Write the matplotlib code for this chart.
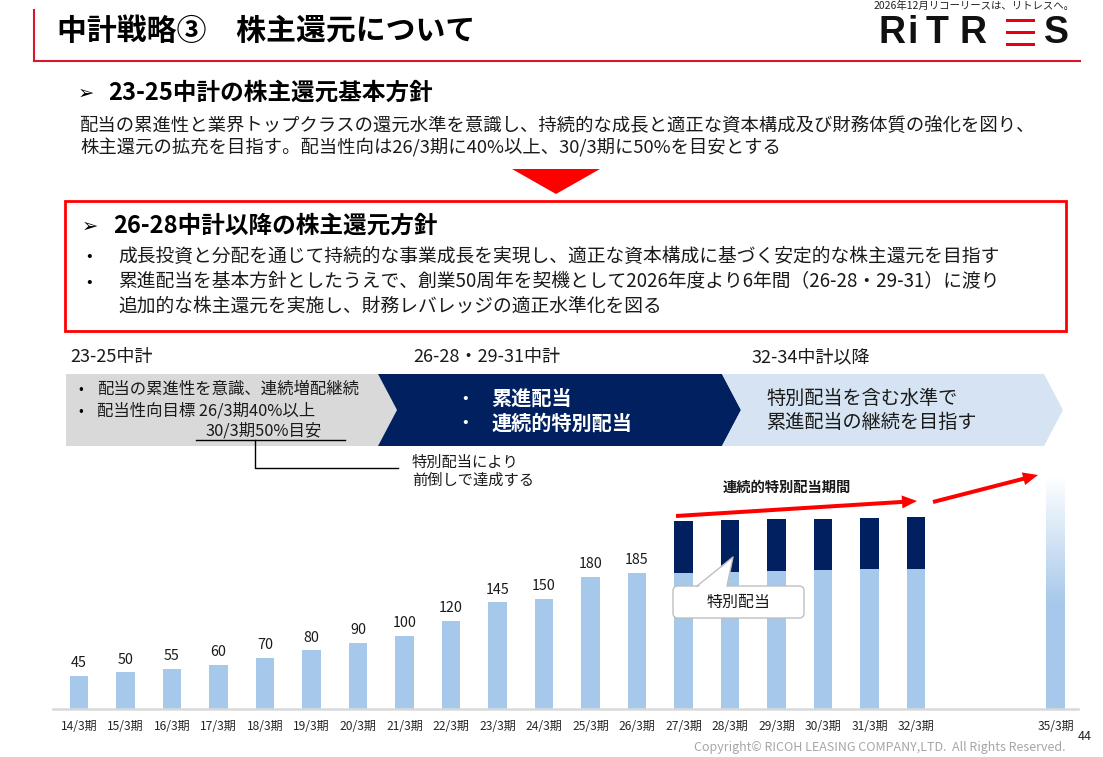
import matplotlib
matplotlib.use('Agg')
import matplotlib.pyplot as plt
import numpy as np
from matplotlib.patches import Polygon, Rectangle, FancyBboxPatch, FancyArrow
from matplotlib.lines import Line2D

plt.rcParams['font.family'] = ['Noto Sans CJK JP', 'DejaVu Sans']

# ---------------- data ----------------
periods = ['14/3期', '15/3期', '16/3期', '17/3期', '18/3期', '19/3期', '20/3期',
           '21/3期', '22/3期', '23/3期', '24/3期', '25/3期', '26/3期',
           '27/3期', '28/3期', '29/3期', '30/3期', '31/3期', '32/3期']
base_dividend = [45, 50, 55, 60, 70, 80, 90, 100, 120, 145, 150, 180, 185,
                 185, 186, 188, 189, 190, 190]
special_dividend = [0, 0, 0, 0, 0, 0, 0, 0, 0, 0, 0, 0, 0,
                    71, 71, 70, 70, 70, 71]
labeled_count = 13
future_period = '35/3期'
future_level = 316

phase_titles = ['23-25中計', '26-28・29-31中計', '32-34中計以降']

# ---------------- figure ----------------
W, H = 1103, 757
fig = plt.figure(figsize=(W / 100, H / 100), dpi=100)
fig.patch.set_facecolor('white')

LIGHT = '#a6c8ea'
NAVY = '#002060'
RED = '#ff0000'
TXT = '#1a1a1a'

# bar-chart axes in slide pixel geometry
ax_left, ax_right, base_y, ax_top = 53, 1078, 709, 470
px_per_unit = 0.735
x0, step = 79, 46.5
ax = fig.add_axes([ax_left / W, (H - base_y) / H,
                   (ax_right - ax_left) / W, (base_y - ax_top) / H])
ylim = (0, (base_y - ax_top) / px_per_unit)
xlim = ((ax_left - x0) / step, (ax_right - x0) / step)

pos = [int(p.split('/')[0]) - 14 for p in periods]
fpos = int(future_period.split('/')[0]) - 14
bw = 0.4

ax.bar(pos, base_dividend, width=bw, color=LIGHT, zorder=2)
ax.bar(pos, special_dividend, bottom=base_dividend, width=bw, color=NAVY, zorder=2)
for i in range(labeled_count):
    ax.annotate(str(base_dividend[i]), (pos[i], base_dividend[i]),
                xytext=(0, 4), textcoords='offset points',
                ha='center', va='bottom', fontsize=10.3, color=TXT)

# gradient bar for the future target
frect = ax.bar([fpos], [future_level], width=bw, color='none', zorder=2)[0]
n = 256
t = np.linspace(0, 1, n)
light_rgb = np.array(matplotlib.colors.to_rgb(LIGHT))
mix = np.clip((t - 0.45) / 0.55, 0, 1)[:, None]
grad = light_rgb[None, :] * (1 - mix) + np.array([1, 1, 1])[None, :] * mix
grad = grad[:, None, :]
im = ax.imshow(grad, extent=[fpos - bw / 2, fpos + bw / 2, 0, future_level],
               origin='lower', aspect='auto', zorder=2)
im.set_clip_path(frect)

ax.set_xlim(*xlim)
ax.set_ylim(*ylim)
ax.set_xticks(pos + [fpos], periods + [future_period])
ax.tick_params(axis='x', length=0, pad=8, labelsize=8.7, labelcolor='#262626')
ax.set_yticks([])
for s in ['top', 'right', 'left']:
    ax.spines[s].set_visible(False)
ax.spines['bottom'].set_color('#d9d9d9')
ax.spines['bottom'].set_linewidth(1.8)
ax.patch.set_alpha(0)

# ---------------- slide overlay ----------------
ov = fig.add_axes([0, 0, 1, 1], zorder=5)
ov.set_xlim(0, W)
ov.set_ylim(H, 0)
ov.axis('off')

HDR = '#d7182a'
ov.add_line(Line2D([34, 34], [10, 61], color=HDR, lw=1.5))
ov.add_line(Line2D([34, 1080], [61, 61], color=HDR, lw=1.5))
ov.text(57, 31, '中計戦略③　株主還元について', fontsize=21.5, fontweight='bold',
        va='center', ha='left', color='black')
ov.text(1075, 6, '2026年12月リコーリースは、リトレスへ。', fontsize=7.5,
        va='center', ha='right', color='#222222')
# logo
for ch, cx in [('R', 892), ('i', 913), ('T', 937), ('R', 973), ('S', 1056)]:
    ov.text(cx, 33, ch, fontsize=27, family='Liberation Sans', fontweight='bold',
            ha='center', va='center', color='#111111')
for by in [20.3, 32.7, 44.3]:
    ov.add_patch(Rectangle((1006, by - 1.8), 29, 3.6, fc='#e60012', ec='none'))

# section 1
ov.text(78, 93, '➢', fontsize=14, va='center', ha='left', color='black')
ov.text(108, 93, '23-25中計の株主還元基本方針', fontsize=17, fontweight='bold',
        va='center', ha='left')
ov.text(80, 125, '配当の累進性と業界トップクラスの還元水準を意識し、持続的な成長と適正な資本構成及び財務体質の強化を図り、',
        fontsize=13.2, va='center', ha='left', color=TXT)
ov.text(80, 148, '株主還元の拡充を目指す。配当性向は26/3期に40%以上、30/3期に50%を目安とする',
        fontsize=13.2, va='center', ha='left', color=TXT)
ov.add_patch(Polygon([(512, 169), (600, 169), (556, 194)], closed=True, fc=RED, ec='none'))

# section 2 (red box)
ov.add_patch(Rectangle((65, 201), 1001, 130, fill=False, ec=RED, lw=2))
ov.text(82, 226, '➢', fontsize=14, va='center', ha='left')
ov.text(113, 226, '26-28中計以降の株主還元方針', fontsize=17, fontweight='bold',
        va='center', ha='left')
ov.text(86, 256, '•', fontsize=12, va='center', ha='left')
ov.text(118, 256, '成長投資と分配を通じて持続的な事業成長を実現し、適正な資本構成に基づく安定的な株主還元を目指す',
        fontsize=13.5, va='center', ha='left', color=TXT)
ov.text(86, 282, '•', fontsize=12, va='center', ha='left')
ov.text(118, 282, '累進配当を基本方針としたうえで、創業50周年を契機として2026年度より6年間（26-28・29-31）に渡り',
        fontsize=13.5, va='center', ha='left', color=TXT)
ov.text(118, 306, '追加的な株主還元を実施し、財務レバレッジの適正水準化を図る',
        fontsize=13.5, va='center', ha='left', color=TXT)

# phase titles
for txt, x in zip(phase_titles, [70, 413, 752]):
    ov.text(x, 357, txt, fontsize=13, va='center', ha='left', color=TXT)

# chevrons
ov.add_patch(Polygon([(66, 374), (378, 374), (397, 410), (378, 446), (66, 446)],
                     closed=True, fc='#d9d9d9', ec='none'))
ov.add_patch(Polygon([(378, 374), (722, 374), (741, 410), (722, 446), (378, 446), (397, 410)],
                     closed=True, fc=NAVY, ec='none'))
ov.add_patch(Polygon([(722, 374), (1044, 374), (1063, 410), (1044, 446), (722, 446), (741, 410)],
                     closed=True, fc='#d6e3f2', ec='none'))

ov.text(78, 389, '•', fontsize=10, va='center', ha='left')
ov.text(97, 389, '配当の累進性を意識、連続増配継続', fontsize=11.8, va='center', ha='left', color=TXT)
ov.text(78, 411, '•', fontsize=10, va='center', ha='left')
ov.text(97, 411, '配当性向目標 26/3期40%以上', fontsize=11.8, va='center', ha='left', color=TXT)
ov.text(205, 431, '30/3期50%目安', fontsize=11.8, va='center', ha='left', color=TXT)
ov.add_line(Line2D([196, 345], [440, 440], color='black', lw=1))
ov.add_line(Line2D([255, 255, 398], [440, 468, 468], color='black', lw=1))
ov.text(412, 462, '特別配当により', fontsize=11, va='center', ha='left', color=TXT)
ov.text(412, 480, '前倒しで達成する', fontsize=11, va='center', ha='left', color=TXT)

ov.text(462, 398, '•', fontsize=12, va='center', ha='left', color='white')
ov.text(491, 398, '累進配当', fontsize=14.5, fontweight='bold', va='center', ha='left', color='white')
ov.text(462, 423, '•', fontsize=12, va='center', ha='left', color='white')
ov.text(491, 423, '連続的特別配当', fontsize=14.5, fontweight='bold', va='center', ha='left', color='white')

ov.text(766, 398, '特別配当を含む水準で', fontsize=13.8, va='center', ha='left', color=TXT)
ov.text(766, 422, '累進配当の継続を目指す', fontsize=13.8, va='center', ha='left', color=TXT)

# red arrows and label
ov.add_patch(FancyArrow(676, 516, 917 - 676, 501 - 516, width=4, head_width=13,
                        head_length=15, length_includes_head=True, fc=RED, ec='none'))
ov.add_patch(FancyArrow(933, 502, 1038 - 933, 475 - 502, width=4, head_width=13,
                        head_length=15, length_includes_head=True, fc=RED, ec='none'))
ov.text(787, 488, '連続的特別配当期間', fontsize=10.3, fontweight='bold', va='center',
        ha='center', color=TXT)

# callout
ov.add_patch(FancyBboxPatch((673, 586), 131, 32, boxstyle='round,pad=0,rounding_size=5',
                            fc='white', ec='#bfbfbf', lw=1))
ov.add_patch(Polygon([(697, 588), (727, 588), (733, 557)], closed=True, fc='white', ec='none'))
ov.add_line(Line2D([697, 733, 727], [586, 557, 586], color='#bfbfbf', lw=1))
ov.text(739, 602, '特別配当', fontsize=11.5, va='center', ha='center', color=TXT)

# footer
ov.text(1065, 747, 'Copyright© RICOH LEASING COMPANY,LTD.  All Rights Reserved.',
        fontsize=9, va='center', ha='right', color='#a6a6a6')
ov.text(1085, 736, '44', fontsize=9, va='center', ha='center', color='#262626')

fig.savefig('out.png', dpi=100, facecolor='white')
